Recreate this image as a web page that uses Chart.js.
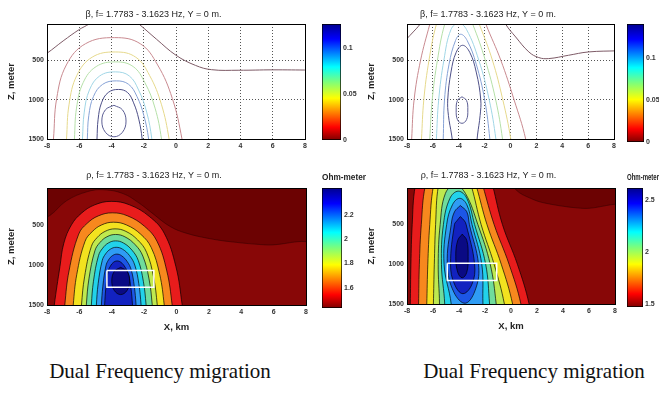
<!DOCTYPE html>
<html>
<head>
<meta charset="utf-8">
<script src="https://cdn.jsdelivr.net/npm/chart.js@4.4.1/dist/chart.umd.min.js"></script>
<style>
  body { margin: 0; background: #fff; }
  #page { position: relative; width: 659px; height: 414px; overflow: hidden; background: #fff; }
  canvas { position: absolute; }
  .cap { position: absolute; width: 300px; top: 359px; text-align: center; font: 21px 'Liberation Serif', 'Times New Roman', serif; color: #111; }
</style>
</head>
<body>
<div id="page">
  <canvas id="tl" width="310" height="153" style="left:0;top:0"></canvas>
  <canvas id="tr" width="259" height="153" style="left:360px;top:0"></canvas>
  <canvas id="bl" width="311" height="175" style="left:0;top:160px"></canvas>
  <canvas id="br" width="260" height="174" style="left:360px;top:160px"></canvas>
  <canvas id="cbtl" width="45" height="150" style="left:320px;top:0"></canvas>
  <canvas id="cbtr" width="43" height="152" style="left:625px;top:0"></canvas>
  <canvas id="cbbl" width="66" height="158" style="left:300px;top:160px"></canvas>
  <canvas id="cbbr" width="44" height="157" style="left:615px;top:160px"></canvas>
  <div class="cap" style="left:10px">Dual Frequency migration</div>
  <div class="cap" style="left:384px">Dual Frequency migration</div>
</div>
<script>
// axes
const xTicks = [-8, -6, -4, -2, 0, 2, 4, 6, 8];
const zTicks = [500, 1000, 1500];
const xRange = [-8, 8];
const zRange = [40, 1500];
const titleTop = 'β, f= 1.7783 - 3.1623 Hz, Y = 0 m.';
const titleBottom = 'ρ, f= 1.7783 - 3.1623 Hz, Y = 0 m.';

// colour bars
const cbRangeTL = [0, 0.126];
const cbRangeTR = [0, 0.14];
const cbRangeBL = [1.435, 2.42];
const cbRangeBR = [1.47, 2.615];
const cbTicksTop = [0, 0.05, 0.1];
const cbTicksBL = [1.6, 1.8, 2, 2.2];
const cbTicksBR = [1.5, 2, 2.5];

// top left contours, [x km, z m]
const tlEdgeA = [[-8.3, 440], [-8, 411], [-7, 255], [-6, 110], [-5.4, 40], [-5.1, -20]];
const tlEdgeB = [[-2.7, -20], [-2.28, 44], [-1.2, 235], [0, 437], [1.2, 565], [2.2, 620], [3.9, 627], [6, 622], [8.3, 625]];
const tlLevel1 = [[-7.7, 1700], [-7.6, 1500], [-7.4, 985], [-6.8, 560], [-5.61, 290], [-3.81, 213], [-2.22, 290], [-1.14, 560], [-0.23, 985], [0.37, 1500], [0.45, 1700]];
const tlLevel2 = [[-6.85, 1700], [-6.79, 1500], [-6.63, 1058], [-6.15, 693], [-5.2, 461], [-3.77, 395], [-2.5, 461], [-1.64, 693], [-0.91, 1058], [-0.43, 1500], [-0.37, 1700]];
const tlLevel3 = [[-6.35, 1700], [-6.3, 1500], [-6.17, 1108], [-5.76, 785], [-4.95, 580], [-3.74, 521], [-2.66, 580], [-1.93, 785], [-1.3, 1108], [-0.9, 1500], [-0.85, 1700]];
const tlLevel4 = [[-5.85, 1700], [-5.8, 1500], [-5.69, 1159], [-5.37, 878], [-4.73, 699], [-3.76, 648], [-2.9, 699], [-2.32, 878], [-1.82, 1159], [-1.5, 1500], [-1.45, 1700]];
const tlLevel5 = [[-5.55, 1700], [-5.5, 1500], [-5.41, 1205], [-5.12, 961], [-4.55, 806], [-3.7, 762], [-2.94, 806], [-2.42, 961], [-1.99, 1205], [-1.7, 1500], [-1.65, 1700]];
const tlLevel6 = [[-4.95, 1700], [-4.9, 1500], [-4.83, 1248], [-4.62, 1041], [-4.2, 909], [-3.57, 871], [-3.01, 909], [-2.63, 1041], [-2.31, 1248], [-2.1, 1500], [-2.05, 1700]];
const tlLevel7 = [[-3.85, 1072], [-3.32, 1130], [-3.1, 1272], [-3.32, 1414], [-3.85, 1472], [-4.38, 1414], [-4.6, 1272], [-4.38, 1130], [-3.85, 1072]];

// top right contours
const trEdgeA = [[-8.3, 280], [-8, 225], [-7.52, 141], [-7, 44], [-6.8, -20]];
const trEdgeB = [[-0.45, -20], [-0.37, 44], [0.4, 205], [1.42, 395], [2.18, 466], [2.95, 479], [4.48, 437], [6.01, 395], [8.3, 380]];
const trLevel1 = [[-7.7, 1700], [-7.64, 1500], [-7.45, 1000], [-6.95, 500], [-6.24, 44], [-5.9, -150], [-4.1, -420], [-2.3, -150], [-1.9, 44], [-0.75, 500], [0.27, 1000], [1.17, 1500], [1.25, 1700]];
const trLevel2 = [[-6.95, 1700], [-6.88, 1500], [-6.7, 1000], [-6.3, 500], [-5.73, 44], [-5.3, -100], [-4.1, -250], [-2.8, -100], [-2.41, 44], [-1.4, 500], [-0.6, 1000], [0.02, 1500], [0.1, 1700]];
const trLevel3 = [[-6.3, 1700], [-6.24, 1500], [-6.05, 1000], [-5.65, 500], [-5.09, 44], [-4.7, -60], [-4.0, -120], [-3.3, -60], [-2.92, 44], [-1.95, 500], [-1.15, 1000], [-0.62, 1500], [-0.55, 1700]];
const trLevel4 = [[-5.8, 1700], [-5.73, 1500], [-5.55, 1000], [-5.15, 500], [-4.6, 110], [-4.0, 30], [-3.4, 110], [-2.45, 500], [-1.65, 1000], [-1.13, 1500], [-1.05, 1700]];
const trLevel5 = [[-5.25, 1700], [-5.2, 1500], [-5.1, 1000], [-4.75, 550], [-4.25, 250], [-3.85, 170], [-3.35, 250], [-2.65, 550], [-2.0, 1000], [-1.6, 1500], [-1.55, 1700]];
const trLevel6 = [[-4.35, 1700], [-4.55, 1450], [-4.8, 1200], [-4.85, 1000], [-4.6, 650], [-4.2, 400], [-3.7, 310], [-3.15, 400], [-2.65, 650], [-2.3, 1000], [-2.35, 1200], [-2.55, 1450], [-2.7, 1700]];
const trLevel7 = [[-3.75, 964], [-3.4, 1010], [-3.3, 1132], [-3.4, 1255], [-3.75, 1301], [-4.1, 1255], [-4.2, 1132], [-4.1, 1010], [-3.75, 964]];

// bottom left filled bands, outermost first
const blBack = [[-9, -300], [9, -300], [9, 1700], [-9, 1700]];
const blBand0 = [[-8.6, 450], [-7.8, 380], [-6.8, 200], [-5.5, 85], [-4.5, 62], [-3.3, 110], [-2.3, 230], [-1.5, 354], [-0.4, 520], [0.6, 604], [2, 670], [3.4, 712], [5.5, 750], [8.6, 780], [8.6, 1700], [-8.6, 1700]];
const blBand1 = [[-7.65, 1700], [-7.55, 1500], [-7.2, 1020], [-6.96, 729], [-6.49, 500], [-5.87, 354], [-5.05, 250], [-4.03, 207], [-2.9, 250], [-1.68, 395], [-0.76, 604], [-0.04, 1020], [0.35, 1500], [0.45, 1700]];
const blBand2 = [[-6.95, 1700], [-6.9, 1500], [-6.64, 1075], [-6.04, 615], [-5.52, 481], [-4.83, 388], [-3.97, 350], [-3.02, 388], [-1.98, 517], [-1.21, 703], [-0.6, 1075], [-0.27, 1500], [-0.2, 1700]];
const blBand3 = [[-6.43, 1700], [-6.38, 1500], [-6.16, 1118], [-5.65, 705], [-5.21, 585], [-4.63, 501], [-3.9, 467], [-3.09, 501], [-2.21, 617], [-1.56, 784], [-1.04, 1118], [-0.76, 1500], [-0.7, 1700]];
const blBand4 = [[-5.92, 1700], [-5.87, 1500], [-5.68, 1149], [-5.26, 769], [-4.9, 658], [-4.41, 581], [-3.8, 550], [-3.13, 581], [-2.4, 688], [-1.85, 842], [-1.42, 1149], [-1.19, 1500], [-1.14, 1700]];
const blBand5 = [[-5.62, 1700], [-5.57, 1500], [-5.41, 1174], [-5.04, 822], [-4.73, 720], [-4.3, 649], [-3.77, 620], [-3.19, 649], [-2.55, 748], [-2.08, 890], [-1.7, 1174], [-1.5, 1500], [-1.45, 1700]];
const blBand6 = [[-5.3, 1700], [-5.26, 1500], [-5.13, 1204], [-4.82, 884], [-4.56, 791], [-4.21, 726], [-3.77, 700], [-3.28, 726], [-2.75, 816], [-2.36, 946], [-2.05, 1204], [-1.88, 1500], [-1.84, 1700]];
const blBand7 = [[-4.99, 1700], [-4.95, 1500], [-4.84, 1234], [-4.59, 946], [-4.38, 862], [-4.09, 804], [-3.73, 780], [-3.33, 804], [-2.9, 884], [-2.58, 1001], [-2.33, 1234], [-2.19, 1500], [-2.15, 1700]];
const blBand8 = [[-4.68, 1700], [-4.64, 1500], [-4.55, 1265], [-4.36, 1011], [-4.2, 937], [-3.97, 886], [-3.69, 865], [-3.39, 886], [-3.05, 957], [-2.8, 1060], [-2.61, 1265], [-2.5, 1500], [-2.46, 1700]];
const blBand9 = [[-4.48, 1700], [-4.44, 1500], [-4.37, 1297], [-4.22, 1077], [-4.08, 1013], [-3.9, 968], [-3.68, 950], [-3.43, 968], [-3.17, 1030], [-2.96, 1119], [-2.81, 1297], [-2.72, 1500], [-2.68, 1700]];
const blCore = [[-3.45, 1030], [-3.06, 1080], [-2.9, 1200], [-3.06, 1320], [-3.45, 1370], [-3.84, 1320], [-4.0, 1200], [-3.84, 1080], [-3.45, 1030]];
const blTarget = [[-4.3, 1070], [-1.4, 1070], [-1.4, 1280], [-4.3, 1280], [-4.3, 1070]];

// bottom right filled bands
const brBack = [[-9, -900], [9, -900], [9, 1700], [-9, 1700]];
const brBand0 = [[-9, -900], [-0.6, -900], [-0.2, -100], [0.38, 63], [1.5, 170], [2.67, 232], [5.45, 296], [9, 320], [9, 1700], [-9, 1700]];
const brBand1 = [[-7.8, 1700], [-7.75, 1500], [-7.7, 1000], [-7.6, 500], [-7.37, 16], [-6.8, -300], [-4.2, -700], [-1.9, -300], [-1.4, 16], [-0.66, 500], [0.49, 1000], [1.39, 1500], [1.45, 1700]];
const brBand2 = [[-7.15, 1700], [-7.11, 1500], [-7.05, 1000], [-6.9, 500], [-6.6, 16], [-6.0, -250], [-4.3, -500], [-2.6, -250], [-2.16, 16], [-1.3, 500], [-0.15, 1000], [0.76, 1500], [0.8, 1700]];
const brBand3 = [[-6.52, 1700], [-6.48, 1500], [-6.4, 1000], [-6.25, 500], [-5.97, 16], [-5.5, -200], [-4.3, -350], [-3.1, -200], [-2.67, 16], [-1.85, 500], [-0.75, 1000], [0.12, 1500], [0.18, 1700]];
const brBand4 = [[-6.0, 1700], [-5.97, 1500], [-5.9, 1000], [-5.8, 500], [-5.59, 16], [-5.2, -120], [-4.3, -200], [-3.4, -120], [-3.05, 16], [-2.3, 500], [-1.3, 1000], [-0.51, 1500], [-0.45, 1700]];
const brBand5 = [[-5.55, 1700], [-5.5, 1500], [-5.6, 1000], [-5.45, 500], [-5.05, 110], [-4.3, 0], [-3.5, 110], [-2.55, 500], [-1.6, 1000], [-1.14, 1500], [-1.1, 1700]];
const brBand6 = [[-5.15, 1700], [-5.1, 1500], [-5.35, 1000], [-5.2, 500], [-4.7, 170], [-4.05, 80], [-3.4, 170], [-2.8, 500], [-1.95, 1000], [-1.65, 1500], [-1.6, 1700]];
const brBand7 = [[-4.65, 1700], [-4.6, 1500], [-5.15, 1000], [-4.95, 500], [-4.5, 250], [-3.95, 170], [-3.4, 250], [-3.0, 500], [-2.25, 1000], [-2.16, 1500], [-2.1, 1700]];
const brBand8 = [[-3.9, 260], [-3.4, 340], [-3.2, 500], [-2.5, 1000], [-2.7, 1300], [-3.5, 1490], [-4.4, 1350], [-4.9, 1000], [-4.6, 500], [-4.35, 340], [-3.9, 260]];
const brBand9 = [[-3.9, 400], [-3.6, 450], [-3.45, 500], [-2.8, 1000], [-3.0, 1250], [-3.7, 1370], [-4.35, 1250], [-4.65, 1000], [-4.35, 500], [-4.15, 450], [-3.9, 400]];
const brCore = [[-3.75, 620], [-3.4, 700], [-3.3, 900], [-3.4, 1100], [-3.75, 1170], [-4.1, 1100], [-4.25, 900], [-4.1, 700], [-3.75, 620]];
const brTarget = [[-4.9, 987], [-1.1, 987], [-1.1, 1205], [-4.9, 1205], [-4.9, 987]];

// colours
const edgeColor = '#7d5a66';
const lineColors = ['#c98a90', '#e6d98c', '#b5e0a8', '#a0d6e6', '#86a2d6', '#4e5088', '#5c5e94'];
const bandColors = ['#6c0202', '#880707', '#e81c1c', '#f7881e', '#f3e21f', '#bfe94f', '#6fdc9c', '#22d2ea', '#2f9cf4', '#1c56e6', '#1222c0', '#0a0a84'];
const jetStops = [[0, '#7f0000'], [0.11, '#ff0000'], [0.36, '#ffff00'], [0.5, '#7dff7a'], [0.63, '#00ffff'], [0.87, '#0000ff'], [1, '#00008f']];

Chart.defaults.font.family = "'Liberation Sans', Arial, sans-serif";
Chart.defaults.color = '#333';

const tickFont = { size: 7, weight: 'bold' };
const axisFont = { size: 9.5, weight: 'bold' };

function lineSet(points, color) {
    return { data: points, showLine: true, fill: false, borderColor: color, borderWidth: 1,
             pointRadius: 0, tension: 0.4 };
}

function bandSets(bands, target) {
    const n = bands.length;
    const sets = bands.map((pts, i) => ({
        data: pts, showLine: true, fill: 'shape', backgroundColor: bandColors[i],
        borderColor: i < 2 ? 'rgba(40,0,0,0.6)' : 'rgba(0,0,0,0.85)',
        borderWidth: i === 0 ? 0 : 0.8, pointRadius: 0, tension: i === 0 ? 0 : 0.4,
        order: n - i + 1
    }));
    sets.push({ data: target, showLine: true, fill: false, borderColor: '#fff', borderWidth: 1.5,
                pointRadius: 0, tension: 0, order: 0 });
    return sets;
}

function panelOptions(title, xTitle, xHeight, withGrid, titlePad) {
    const grid = { display: withGrid, drawOnChartArea: withGrid, drawTicks: false,
                   color: '#555', lineWidth: 1 };
    const frame = { display: true, color: '#000', width: 1, dash: [1, 2], z: 1 };
    return {
        responsive: false,
        animation: false,
        events: [],
        layout: { autoPadding: false, padding: { left: 0, right: 3, top: 0, bottom: 0 } },
        elements: { line: { capBezierPoints: false } },
        plugins: {
            legend: { display: false },
            tooltip: { enabled: false },
            title: { display: true, text: title, color: '#222', font: { size: 9, weight: 'normal' }, padding: titlePad }
        },
        scales: {
            x: {
                type: 'linear', min: xRange[0], max: xRange[1],
                afterBuildTicks: s => { s.ticks = xTicks.map(v => ({ value: v })); },
                afterFit: s => { s.height = xHeight; },
                ticks: { font: tickFont, padding: 3, maxRotation: 0, autoSkip: false, callback: v => String(v) },
                grid: grid, border: frame,
                title: { display: !!xTitle, text: xTitle, font: axisFont, color: '#222', padding: { top: 0, bottom: 2 } }
            },
            y: {
                type: 'linear', reverse: true, min: zRange[0], max: zRange[1],
                afterBuildTicks: s => { s.ticks = zTicks.map(v => ({ value: v })); },
                afterFit: s => { s.width = 47; },
                ticks: { font: tickFont, padding: 3, callback: v => String(v) },
                grid: grid, border: frame,
                title: { display: true, text: 'Z, meter', font: axisFont, color: '#222', padding: { top: 6, bottom: 0 } }
            },
            x2: {
                type: 'linear', position: 'top', min: xRange[0], max: xRange[1],
                ticks: { display: false }, grid: { display: false, drawTicks: false },
                border: { display: true, color: '#000', width: 1, z: 1 },
                afterFit: s => { s.height = 0; }
            },
            y2: {
                type: 'linear', position: 'right', min: zRange[0], max: zRange[1],
                ticks: { display: false }, grid: { display: false, drawTicks: false },
                border: { display: true, color: '#000', width: 1, z: 1 },
                afterFit: s => { s.width = 0; }
            }
        }
    };
}

function jetFill(ctx) {
    const area = ctx.chart.chartArea;
    if (!area) return '#800000';
    const g = ctx.chart.ctx.createLinearGradient(0, area.bottom, 0, area.top);
    jetStops.forEach(([p, c]) => g.addColorStop(p, c));
    return g;
}

function colorbar(id, range, ticks, title, padLeft, axisWidth) {
    new Chart(document.getElementById(id), {
        type: 'bar',
        data: {
            labels: [''],
            datasets: [{ data: [range], backgroundColor: jetFill, borderColor: '#000', borderWidth: 1,
                         borderSkipped: false, barPercentage: 1, categoryPercentage: 1 }]
        },
        options: {
            responsive: false,
            animation: false,
            events: [],
            layout: { autoPadding: false, padding: { left: padLeft, right: 0, top: title ? 0 : 24, bottom: 10 } },
            plugins: {
                legend: { display: false },
                tooltip: { enabled: false },
                title: { display: !!title, text: title || '', color: '#222', font: { size: 9, weight: 'bold' },
                         padding: { top: 12, bottom: 5.2 } }
            },
            scales: {
                x: { display: false },
                y: {
                    position: 'right', min: range[0], max: range[1],
                    afterBuildTicks: s => { s.ticks = ticks.map(v => ({ value: v })); },
                    afterFit: s => { s.width = axisWidth; },
                    ticks: { font: tickFont, padding: 2, callback: v => String(v) },
                    grid: { display: false, drawTicks: false },
                    border: { display: false }
                }
            }
        }
    });
}

const topPad = { top: 9, bottom: 4.2 };
const bottomPad = { top: 10, bottom: 7.2 };

new Chart(document.getElementById('tl'), {
    type: 'scatter',
    data: { datasets: [lineSet(tlEdgeA, edgeColor), lineSet(tlEdgeB, edgeColor)]
        .concat([tlLevel1, tlLevel2, tlLevel3, tlLevel4, tlLevel5, tlLevel6, tlLevel7].map((p, i) => lineSet(p, lineColors[i]))) },
    options: panelOptions(titleTop, '', 14, true, topPad)
});

new Chart(document.getElementById('tr'), {
    type: 'scatter',
    data: { datasets: [lineSet(trEdgeA, edgeColor), lineSet(trEdgeB, edgeColor)]
        .concat([trLevel1, trLevel2, trLevel3, trLevel4, trLevel5, trLevel6, trLevel7].map((p, i) => lineSet(p, lineColors[i]))) },
    options: panelOptions(titleTop, '', 14, true, topPad)
});

new Chart(document.getElementById('bl'), {
    type: 'scatter',
    data: { datasets: bandSets([blBack, blBand0, blBand1, blBand2, blBand3, blBand4, blBand5, blBand6, blBand7, blBand8, blBand9, blCore], blTarget) },
    options: panelOptions(titleBottom, 'X, km', 30, false, bottomPad)
});

new Chart(document.getElementById('br'), {
    type: 'scatter',
    data: { datasets: bandSets([brBack, brBand0, brBand1, brBand2, brBand3, brBand4, brBand5, brBand6, brBand7, brBand8, brBand9, brCore], brTarget) },
    options: panelOptions(titleBottom, 'X, km', 30, false, bottomPad)
});

colorbar('cbtl', cbRangeTL, cbTicksTop, '', 2, 24);
colorbar('cbtr', cbRangeTR, cbTicksTop, '', 2, 24);
colorbar('cbbl', cbRangeBL, cbTicksBL, 'Ohm-meter', 22, 24);
colorbar('cbbr', cbRangeBR, cbTicksBR, 'Ohm-meter', 12, 16);
</script>
</body>
</html>
